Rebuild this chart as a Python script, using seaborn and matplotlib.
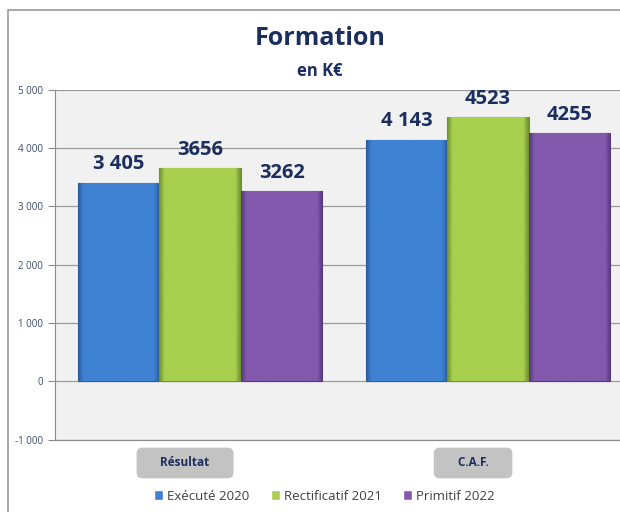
import numpy as np
import pandas as pd
import matplotlib.pyplot as plt
import matplotlib.transforms as mtransforms
from matplotlib.colors import LinearSegmentedColormap
from matplotlib.patches import Rectangle
import seaborn as sns

# données (K€)
categories = ["Résultat", "C.A.F."]
series = ["Exécuté 2020", "Rectificatif 2021", "Primitif 2022"]
valeurs = {
    "Exécuté 2020": [3405, 4143],
    "Rectificatif 2021": [3656, 4523],
    "Primitif 2022": [3262, 4255],
}
etiquettes = {
    "Exécuté 2020": ["3 405", "4 143"],
    "Rectificatif 2021": ["3656", "4523"],
    "Primitif 2022": ["3262", "4255"],
}
yticks = [-1000, 0, 1000, 2000, 3000, 4000, 5000]
ytick_labels = ["-1 000", "0", "1 000", "2 000", "3 000", "4 000", "5 000"]
couleurs = ["#3f82d3", "#a8cf4e", "#8259ac"]
bords = ["#2a5c9e", "#6f9233", "#573a7c"]

df = pd.DataFrame(
    [(c, s, valeurs[s][i]) for s in series for i, c in enumerate(categories)],
    columns=["categorie", "serie", "valeur"],
)

sns.set_style("white")
plt.rcParams["font.family"] = ["Open Sans", "DejaVu Sans"]

navy = "#1b2f5e"
fig = plt.figure(figsize=(6.2, 5.12), dpi=100)
ax = fig.add_axes([0.089, 0.141, 0.911, 0.684])
ax.set_facecolor("#f1f1f1")

sns.barplot(data=df, x="categorie", y="valeur", hue="serie", order=categories,
            hue_order=series, palette=couleurs, saturation=1, width=0.85,
            ax=ax, legend=True)

ax.set_ylim(-1000, 5000)
ax.set_xlim(-0.503, 1.458)

# dégradé type "biseau" sur les barres
grad = np.linspace(0, 1, 64)
grad = np.vstack([grad, grad])
for cont, s, fc, bc in zip(ax.containers, series, couleurs, bords):
    cmap = LinearSegmentedColormap.from_list(
        "b", [(0, bc), (0.06, fc), (0.5, fc), (0.94, fc), (1, bc)])
    for p in cont:
        p.set_edgecolor(bc)
        p.set_linewidth(0.8)
        x0, y0 = p.get_x(), p.get_y()
        w, h = p.get_width(), p.get_height()
        im = ax.imshow(grad, cmap=cmap, aspect="auto", interpolation="bicubic",
                       extent=[x0, x0 + w, y0, y0 + h], zorder=p.get_zorder() + 0.1)
        im.set_clip_path(p)
    ax.bar_label(cont, labels=etiquettes[s], padding=6, fontsize=14.5,
                 fontweight="bold", color=navy)

ax.set_ylim(-1000, 5000)
ax.set_xlim(-0.503, 1.458)
ax.set_yticks(yticks)
ax.set_yticklabels(ytick_labels, fontsize=7, color="#3a4a6a")
ax.yaxis.grid(True, color="#9a9a9a", linewidth=0.9)
ax.set_axisbelow(True)
ax.tick_params(axis="y", length=5, color="#8a8a8a", direction="out", left=True)
ax.tick_params(axis="x", length=0, pad=12)
ax.set_xlabel("")
ax.set_ylabel("")
for side in ["top", "right"]:
    ax.spines[side].set_visible(False)
ax.spines["left"].set_color("#8a8a8a")
ax.spines["bottom"].set_color("#8a8a8a")

ax.set_xticks(range(len(categories)))
ax.set_xticklabels(["     " + c + "     " for c in categories], fontsize=8.5,
                   fontweight="bold", color=navy)
decalage = mtransforms.ScaledTranslation(-15 / 100, 0, fig.dpi_scale_trans)
for lbl in ax.get_xticklabels():
    lbl.set_bbox(dict(boxstyle="round,pad=0.75,rounding_size=0.5",
                      facecolor="#c3c3c3", edgecolor="none"))
    lbl.set_transform(lbl.get_transform() + decalage)

handles, labels = ax.get_legend_handles_labels()
ax.get_legend().remove()
fig.legend(handles, labels, loc="center", bbox_to_anchor=(0.523, 0.031), ncol=3,
           frameon=False, fontsize=9.5, handlelength=0.7, handleheight=0.7,
           handletextpad=0.3, columnspacing=1.6, labelcolor="#404040")

fig.text(0.516, 0.925, "Formation", ha="center", va="center", fontsize=18,
         fontweight="bold", color=navy)
fig.text(0.516, 0.862, "en K€", ha="center", va="center", fontsize=12,
         fontweight="bold", color=navy)

# cadre extérieur
fig.patches.append(Rectangle((0.013, -0.01), 1.0, 0.99, transform=fig.transFigure,
                             fill=False, edgecolor="#9a9a9a", linewidth=1.2))

fig.savefig("out.png", dpi=100)
